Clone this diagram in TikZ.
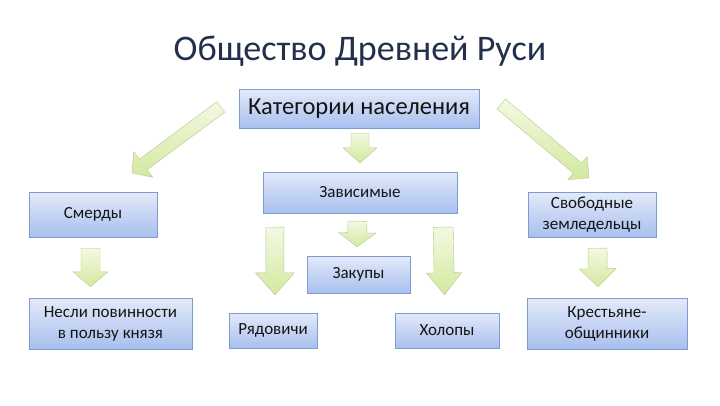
\documentclass[tikz,border=0pt]{standalone}
\usepackage{fontspec}
\setmainfont{Carlito}
\usepackage{tikz}
\usetikzlibrary{calc,positioning}
\definecolor{TitleCol}{HTML}{22304D}
\definecolor{BoxTop}{HTML}{E3EAF9}
\definecolor{BoxBottom}{HTML}{A8BFEE}
\definecolor{BoxLine}{HTML}{7E9CD3}
\definecolor{BoxText}{HTML}{141414}
\definecolor{ArrowTail}{HTML}{F3F9E2}
\definecolor{ArrowTip}{HTML}{D3E9A0}
\definecolor{ArrowLine}{HTML}{B2CC84}

% block arrow: tail, tip, half shaft, half head, head length
\newcommand{\blockarrow}[5]{%
  \coordinate (ba-n) at ($(#2)!#5pt!(#1)$);
  \shadedraw[arrowfill] ($(#1)!#3pt!90:(#2)$) -- ($(ba-n)!#3pt!90:(#2)$)
    -- ($(ba-n)!#4pt!90:(#2)$) -- (#2) -- ($(ba-n)!#4pt!-90:(#2)$)
    -- ($(ba-n)!#3pt!-90:(#2)$) -- ($(#1)!#3pt!-90:(#2)$) -- cycle;
}

\tikzset{
  catbox/.style={draw=BoxLine, top color=BoxTop, bottom color=BoxBottom,
    align=center, inner sep=0pt, text=BoxText, font=\fontsize{17}{21}\selectfont},
  arrowfill/.style={draw=ArrowLine, top color=ArrowTail, bottom color=ArrowTip,
    line join=round}
}

\begin{document}
\begin{tikzpicture}[x=1pt, y=-1pt]
  \fill[white] (0,0) rectangle (720,405);
  \useasboundingbox (0,0) rectangle (720,405);
  % title
  \node[anchor=base, font=\fontsize{36}{42}\selectfont, text=TitleCol] (title) at (360,60)
    {Общество Древней Руси};
  % boxes
  \node[catbox, minimum width=240, minimum height=39, font=\fontsize{24.5}{28}\selectfont]
    (kat) at (359,108.5) {Категории населения};
  \node[catbox, minimum width=194, minimum height=41] (zav) at (360,192.5) {Зависимые};
  \node[catbox, minimum width=128, minimum height=45] (smerdy) at (93,214.5) {Смерды};
  \node[catbox, minimum width=128, minimum height=45] (svob) at (592,214.5)
    {Свободные\\земледельцы};
  \node[catbox, minimum width=103, minimum height=37] (zakup) at (358.5,274.5) {Закупы};
  \node[catbox, minimum width=163, minimum height=51] (nesli) at (110.5,323.5)
    {Несли повинности\\в пользу князя};
  \node[catbox, minimum width=88, minimum height=35] (ryad) at (273,330.5) {Рядовичи};
  \node[catbox, minimum width=104, minimum height=35] (holop) at (447,330.5) {Холопы};
  \node[catbox, minimum width=160, minimum height=51] (krest) at (607,323.5)
    {Крестьяне-\\общинники};
  % arrow ends
  \coordinate (katL) at ($(kat.west)+(-18,-1.5)$);
  \coordinate (smerdyIn) at ($(smerdy.north)+(39,-19)$);
  \coordinate (katR) at ($(kat.east)+(22,-4.5)$);
  \coordinate (svobIn) at ($(svob.north)+(-3,-14)$);
  \coordinate (katB) at ($(kat.south)+(1,5)$);
  \coordinate (zavIn) at ($(zav.north)+(0,-9)$);
  \coordinate (zavB) at ($(zav.south)+(-2.5,8)$);
  \coordinate (zakupIn) at ($(zakup.north)+(-1.5,-9)$);
  \coordinate (zavL) at ($(zav.south west)+(12,14)$);
  \coordinate (ryadIn) at ($(ryad.north)+(2,-18)$);
  \coordinate (zavR) at ($(zav.south east)+(-14,14)$);
  \coordinate (holopIn) at ($(holop.north)+(-2.5,-18)$);
  \coordinate (smerdyB) at ($(smerdy.south)+(-2.5,11)$);
  \coordinate (nesliIn) at ($(nesli.north)+(-20,-11)$);
  \coordinate (svobB) at ($(svob.south)+(5.5,11)$);
  \coordinate (krestIn) at ($(krest.north)+(-9,-11)$);
  % arrows
  \foreach \t/\h/\sw/\hw/\hl in {katL/smerdyIn/6.5/16/14, katR/svobIn/6.5/15/15,
      katB/zavIn/9/17/15, zavB/zakupIn/9.5/18.5/14, zavL/ryadIn/9/19.5/22,
      zavR/holopIn/10/17.5/22, smerdyB/nesliIn/9.5/17.5/15, svobB/krestIn/9.5/18.5/18}
    {\blockarrow{\t}{\h}{\sw}{\hw}{\hl}}
\end{tikzpicture}
\end{document}
